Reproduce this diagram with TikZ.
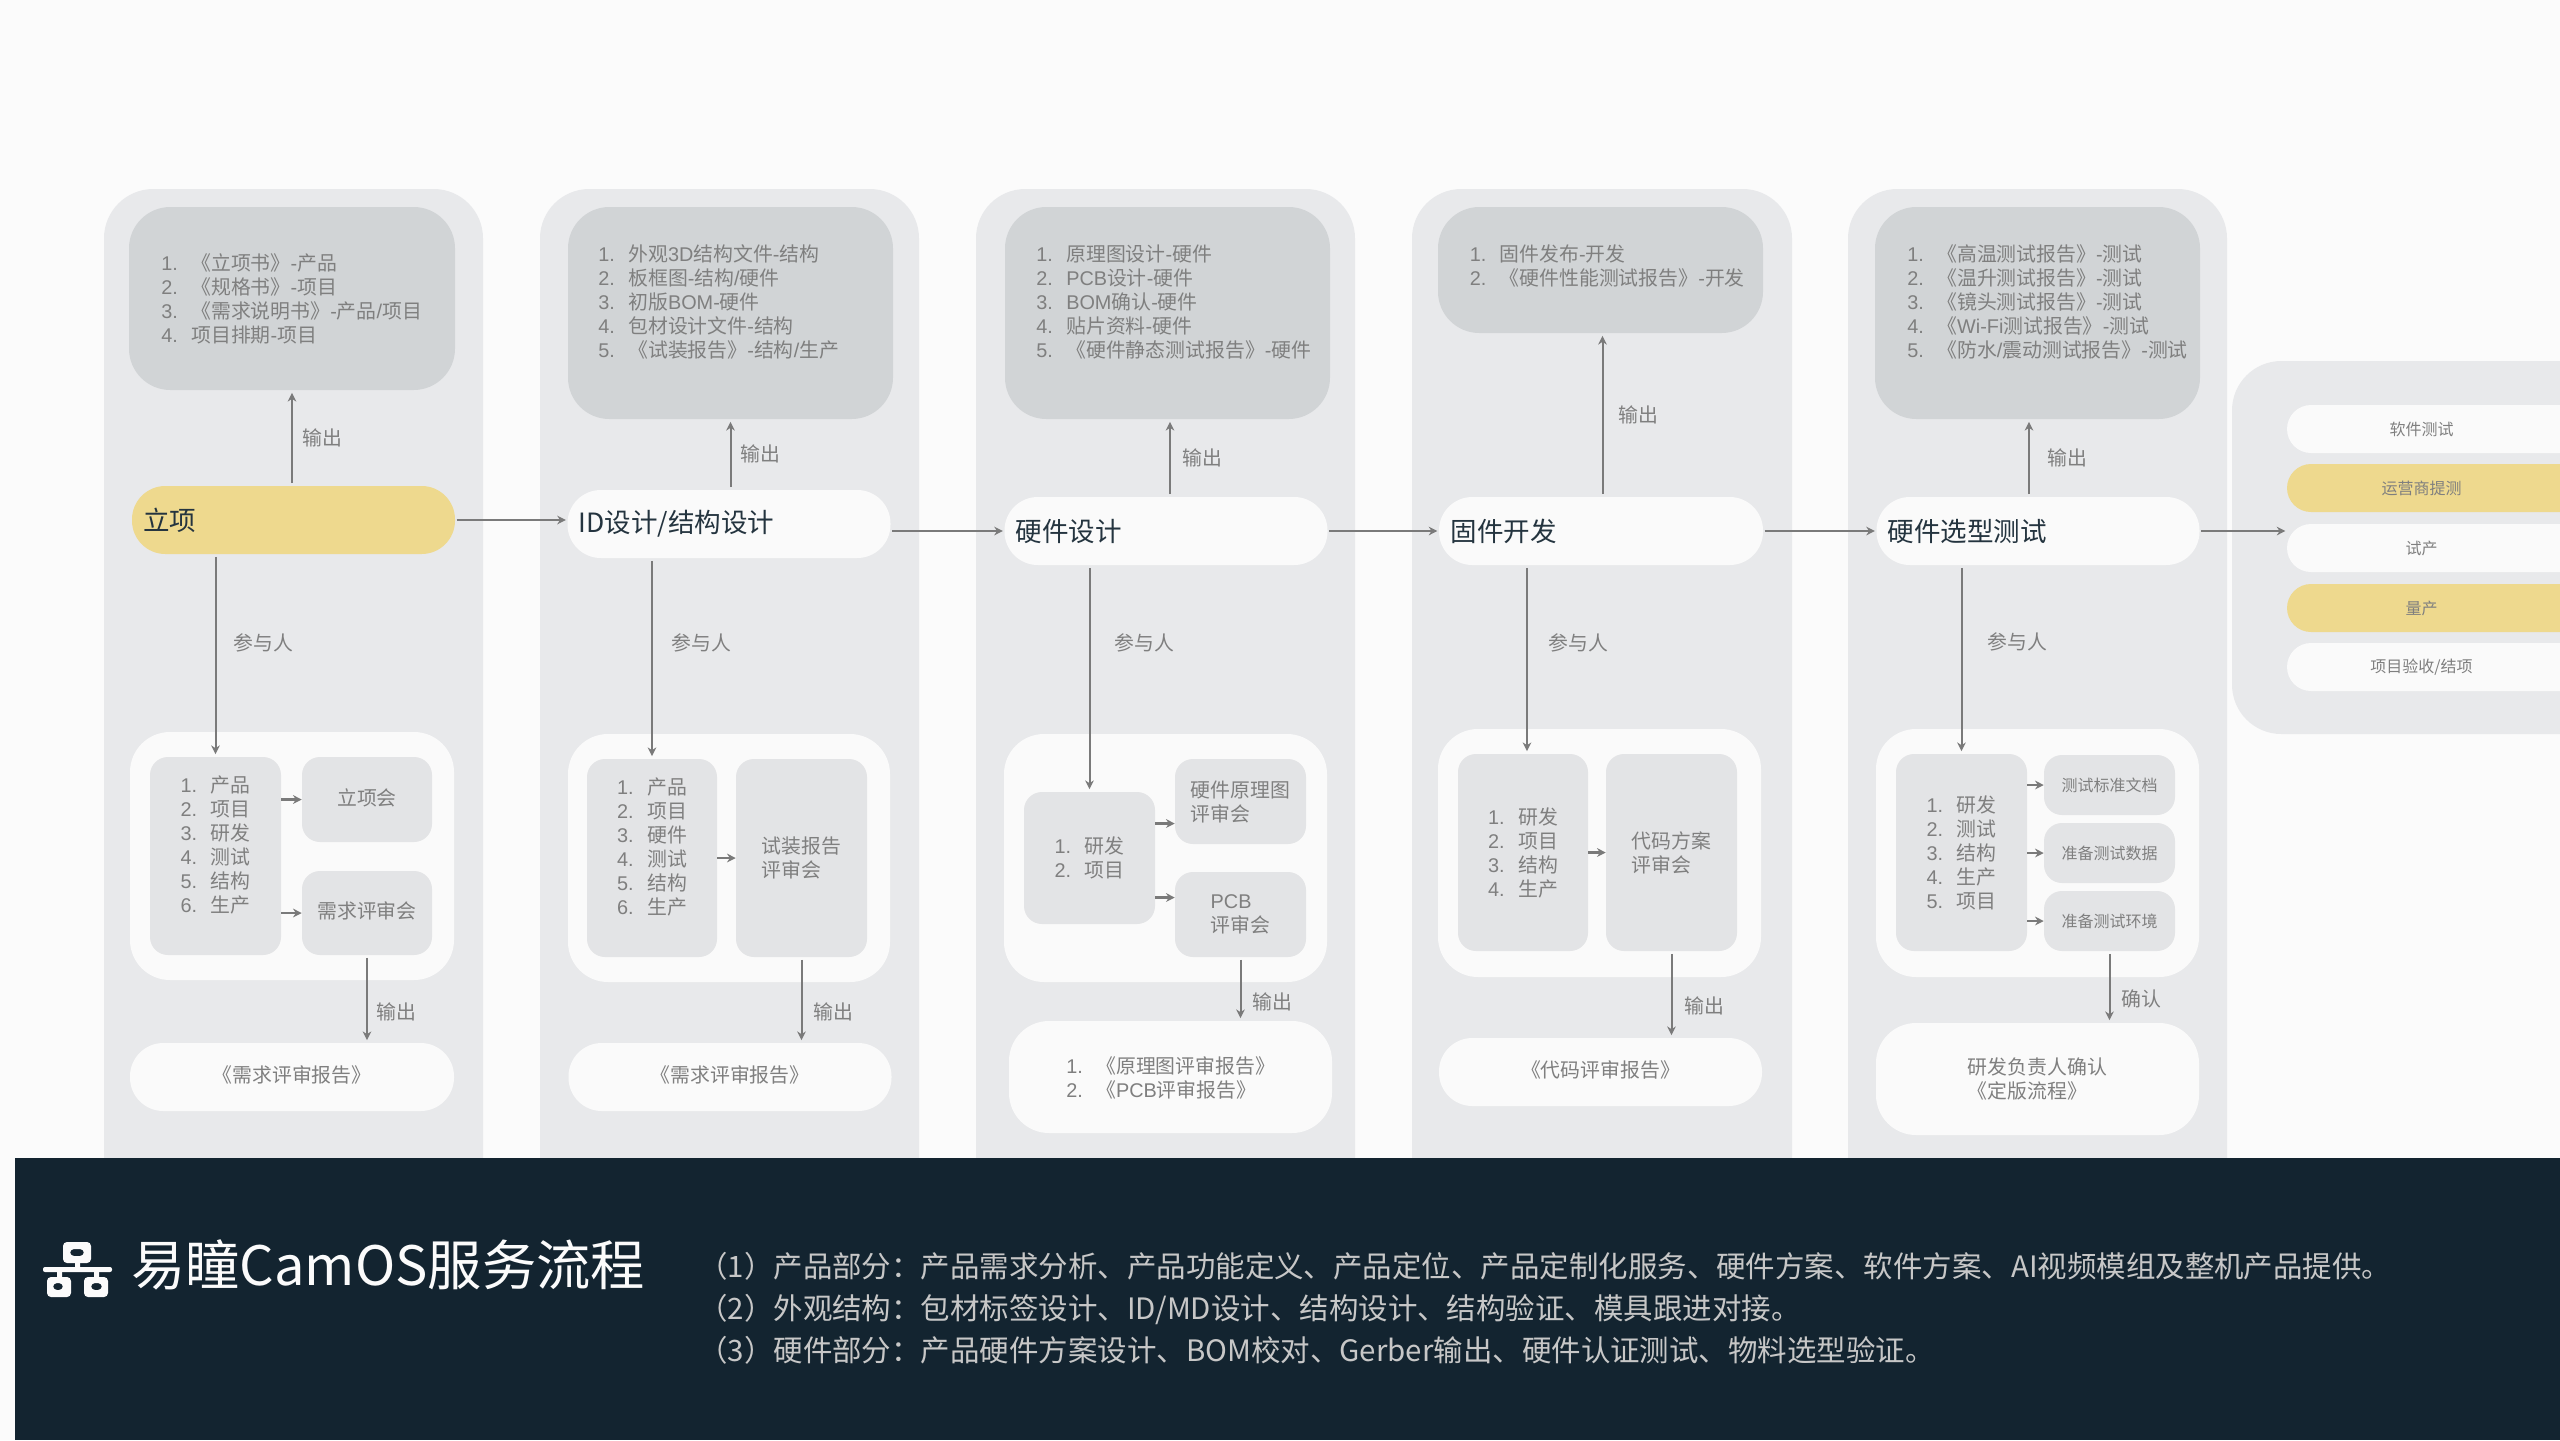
\documentclass[tikz,border=0pt]{standalone}
\usepackage{fontspec}
\usepackage{xcolor}
\usetikzlibrary{arrows.meta}
\setmainfont{Noto Sans CJK SC}
\newfontfamily\enfont{Liberation Sans}
\definecolor{pageBg}{HTML}{FBFBFB}
\definecolor{panelGrey}{HTML}{E8E9EB}
\definecolor{outGrey}{HTML}{D1D4D6}
\definecolor{listGrey}{HTML}{E3E4E6}
\definecolor{softWhite}{HTML}{FAFAFA}
\definecolor{flowYellow}{HTML}{EED98E}
\definecolor{barNavy}{HTML}{132430}
\definecolor{lineGrey}{HTML}{7A7A7A}
\definecolor{textGrey}{HTML}{7F7F7F}
\definecolor{headDark}{HTML}{24343F}
\def\px{0.75pt}
\newcommand{\en}[1]{{\enfont #1}}
\newcommand{\nitem}[2]{\makebox[22.5pt][l]{\enfont #1}#2}
\newcommand{\up}[1]{\raisebox{4pt}{#1}}
\tikzset{
    boxsize/.style 2 args={minimum width=#1*\px, minimum height=#2*\px},
    plainbox/.style={inner sep=0pt, align=left, text=textGrey, font=\fontsize{14.9}{18}\selectfont},
    panelbox/.style={plainbox, fill=panelGrey, rounded corners=37pt},
    outbox/.style={plainbox, fill=outGrey, rounded corners=31pt},
    stagebox/.style={plainbox, fill=softWhite, rounded corners=25pt, text=headDark,
        minimum height=68*\px, text width=301*\px, inner xsep=11*\px, font=\fontsize{19.9}{24}\selectfont},
    reportbox/.style={stagebox, font=\fontsize{14.9}{18}\selectfont, text=textGrey, align=center},
    holdbox/.style={plainbox, fill=softWhite, rounded corners=30pt},
    listbox/.style={plainbox, fill=listGrey, rounded corners=13.5pt},
    smallbox/.style={listbox, font=\fontsize{12}{15}\selectfont},
    testbox/.style={plainbox, rounded corners=18pt, minimum height=48*\px, minimum width=413*\px},
    plaintext/.style={inner sep=0pt, align=left, text=textGrey, font=\fontsize{14.9}{18}\selectfont},
    smalltext/.style={plaintext, font=\fontsize{12}{15}\selectfont},
    flow/.style={->, line width=2.2pt, draw=lineGrey, shorten <=1pt, shorten >=1pt},
    link/.style={->, line width=1.5pt, draw=lineGrey, shorten <=2pt, shorten >=2pt},
    stub/.style={->, line width=2.2pt, draw=lineGrey}
}
\begin{document}
\begin{tikzpicture}[x=\px, y=-\px, >={Stealth[length=6.5pt,width=6.5pt]}]
\useasboundingbox (0,0) rectangle (2560,1440);
\fill[pageBg] (0,0) rectangle (2560,1440);

% panels
\node[panelbox, boxsize={379}{1041}] (panel1) at (293.5,709.5) {};
\node[panelbox, boxsize={379}{1041}] (panel2) at (729.5,709.5) {};
\node[panelbox, boxsize={379}{1041}] (panel3) at (1165.5,709.5) {};
\node[panelbox, boxsize={380}{1041}] (panel4) at (1602,709.5) {};
\node[panelbox, boxsize={379}{1041}] (panel5) at (2037.5,709.5) {};
\node[panelbox, boxsize={468}{373}] (panel6) at (2466,547.5) {};

% output boxes on top
\node[outbox, boxsize={326}{183}] (out1) at (292,298.5) {};
\node[outbox, boxsize={325}{212}] (out2) at (730.5,313) {};
\node[outbox, boxsize={325}{212}] (out3) at (1167.5,313) {};
\node[outbox, boxsize={325}{126}] (out4) at (1600.5,270) {};
\node[outbox, boxsize={325}{212}] (out5) at (2037.5,313) {};
\node[plaintext, anchor=west] (outtext1) at (161,298.5) {\nitem{1.}{《立项书》\en{-}产品}\\\nitem{2.}{《规格书》\en{-}项目}\\\nitem{3.}{《需求说明书》\en{-}产品\en{/}项目}\\\nitem{4.}{项目排期\en{-}项目}};
\node[plaintext, anchor=west] (outtext2) at (598,302) {\nitem{1.}{外观\en{3D}结构文件\en{-}结构}\\\nitem{2.}{板框图\en{-}结构\en{/}硬件}\\\nitem{3.}{初版\en{BOM-}硬件}\\\nitem{4.}{包材设计文件\en{-}结构}\\\nitem{5.}{《试装报告》\en{-}结构\en{/}生产}};
\node[plaintext, anchor=west] (outtext3) at (1036,302) {\nitem{1.}{原理图设计\en{-}硬件}\\\nitem{2.}{\en{PCB}设计\en{-}硬件}\\\nitem{3.}{\en{BOM}确认\en{-}硬件}\\\nitem{4.}{贴片资料\en{-}硬件}\\\nitem{5.}{《硬件静态测试报告》\en{-}硬件}};
\node[plaintext, anchor=west] (outtext4) at (1469.5,266) {\nitem{1.}{固件发布\en{-}开发}\\\nitem{2.}{《硬件性能测试报告》\en{-}开发}};
\node[plaintext, anchor=west] (outtext5) at (1907,302) {\nitem{1.}{《高温测试报告》\en{-}测试}\\\nitem{2.}{《温升测试报告》\en{-}测试}\\\nitem{3.}{《镜头测试报告》\en{-}测试}\\\nitem{4.}{《\en{Wi-Fi}测试报告》\en{-}测试}\\\nitem{5.}{《防水\en{/}震动测试报告》\en{-}测试}};

% stages
\node[stagebox, fill=flowYellow, minimum width=323*\px] (stage1) at (293.5,520) {立项};
\node[stagebox, minimum width=322*\px] (stage2) at (729,524) {ID设计/结构设计};
\node[stagebox, minimum width=322*\px] (stage3) at (1166,531) {硬件设计};
\node[stagebox, minimum width=324*\px] (stage4) at (1601,531) {固件开发};
\node[stagebox, minimum width=322*\px] (stage5) at (2038,531) {硬件选型测试};

% people and meetings
\node[holdbox, boxsize={324}{248}] (hold1) at (292,856) {};
\node[holdbox, boxsize={322}{248}] (hold2) at (729,858) {};
\node[holdbox, boxsize={323}{248}] (hold3) at (1165.5,858) {};
\node[holdbox, boxsize={323}{248}] (hold4) at (1599.5,853) {};
\node[holdbox, boxsize={323}{248}] (hold5) at (2037.5,853) {};
\node[listbox, boxsize={131}{198}] (list1) at (215.5,856) {\nitem{1.}{产品}\\\nitem{2.}{项目}\\\nitem{3.}{研发}\\\nitem{4.}{测试}\\\nitem{5.}{结构}\\\nitem{6.}{生产}\\\mbox{}};
\node[listbox, boxsize={130}{198}] (list2) at (652,858) {\nitem{1.}{产品}\\\nitem{2.}{项目}\\\nitem{3.}{硬件}\\\nitem{4.}{测试}\\\nitem{5.}{结构}\\\nitem{6.}{生产}\\\mbox{}};
\node[listbox, boxsize={131}{132}] (list3) at (1089.5,858) {\nitem{1.}{研发}\\\nitem{2.}{项目}};
\node[listbox, boxsize={130}{197}] (list4) at (1523,852.5) {\nitem{1.}{研发}\\\nitem{2.}{项目}\\\nitem{3.}{结构}\\\nitem{4.}{生产}};
\node[listbox, boxsize={131}{197}] (list5) at (1961.5,852.5) {\nitem{1.}{研发}\\\nitem{2.}{测试}\\\nitem{3.}{结构}\\\nitem{4.}{生产}\\\nitem{5.}{项目}};
\node[listbox, boxsize={130}{85}] (meet1a) at (367,799.5) {\up{立项会}};
\node[listbox, boxsize={130}{84}] (meet1b) at (367,913) {\up{需求评审会}};
\node[listbox, boxsize={131}{198}] (meet2) at (801.5,858) {试装报告\\评审会};
\node[listbox, boxsize={131}{85}] (meet3a) at (1240.5,801.5) {硬件原理图\\评审会};
\node[listbox, boxsize={131}{85}] (meet3b) at (1240.5,914.5) {\en{PCB}\\评审会};
\node[listbox, boxsize={131}{197}] (meet4) at (1671.5,852.5) {代码方案\\评审会};
\node[smallbox, boxsize={131}{60}] (meet5a) at (2109.5,785) {测试标准文档};
\node[smallbox, boxsize={131}{60}] (meet5b) at (2109.5,853) {准备测试数据};
\node[smallbox, boxsize={131}{60}] (meet5c) at (2109.5,921) {准备测试环境};

% reports
\node[reportbox, minimum width=324*\px] (report1) at (292,1077) {\up{《需求评审报告》}};
\node[reportbox, minimum width=322*\px] (report2) at (730,1077) {\up{《需求评审报告》}};
\node[holdbox, boxsize={323}{112}] (report3) at (1170.5,1077) {};
\node[reportbox, minimum width=323*\px] (report4) at (1600.5,1072) {\up{《代码评审报告》}};
\node[holdbox, boxsize={323}{112}] (report5) at (2037.5,1079) {研发负责人确认\\《定版流程》};
\node[plaintext, anchor=west] (reporttext3) at (1066,1078) {\nitem{1.}{《原理图评审报告》}\\\nitem{2.}{《\en{PCB}评审报告》}};

% last panel
\node[testbox, fill=softWhite] (test1) at (2493.5,429) {};
\node[testbox, fill=flowYellow] (test2) at (2493.5,488) {};
\node[testbox, fill=softWhite] (test3) at (2493.5,548) {};
\node[testbox, fill=flowYellow] (test4) at (2493.5,608) {};
\node[testbox, fill=softWhite] (test5) at (2493.5,667) {};
\node[smalltext] (testtext1) at (2421.5,429) {软件测试};
\node[smalltext] (testtext2) at (2421.5,488) {运营商提测};
\node[smalltext] (testtext3) at (2421.5,548) {试产};
\node[smalltext] (testtext4) at (2421.5,608) {量产};
\node[smalltext] (testtext5) at (2421.5,667) {项目验收/结项};

% flow between stages
\draw[flow] (stage1.east) -- (stage1.east -| stage2.west);
\draw[flow] (stage2.east |- stage3.west) -- (stage3.west);
\draw[flow] (stage3.east) -- (stage4.west);
\draw[flow] (stage4.east) -- (stage5.west);
\draw[flow] (stage5.east) -- (stage5.east -| test3.west);

% output arrows
\draw[link] (out1.south |- stage1.north) -- (out1.south);
\draw[link] (out2.south |- stage2.north) -- (out2.south);
\draw[link] ([xshift=2.5*\px]out3.south |- stage3.north) -- ([xshift=2.5*\px]out3.south);
\draw[link] ([xshift=2*\px]out4.south |- stage4.north) -- ([xshift=2*\px]out4.south);
\draw[link] ([xshift=-8.5*\px]out5.south |- stage5.north) -- ([xshift=-8.5*\px]out5.south);
\node[plaintext] (outlabel1) at (322,438) {输出};
\node[plaintext] (outlabel2) at (760.5,454) {输出};
\node[plaintext] (outlabel3) at (1202,458) {输出};
\node[plaintext] (outlabel4) at (1638,415) {输出};
\node[plaintext] (outlabel5) at (2067,458) {输出};

% people arrows
\draw[link] (list1.north |- stage1.south) -- (list1.north);
\draw[link] (list2.north |- stage2.south) -- (list2.north);
\draw[link] (list3.north |- stage3.south) -- (list3.north);
\draw[link] ([xshift=4*\px]list4.north |- stage4.south) -- ([xshift=4*\px]list4.north);
\draw[link] (list5.north |- stage5.south) -- (list5.north);
\node[plaintext] (joinlabel1) at (263.5,643) {参与人};
\node[plaintext] (joinlabel2) at (701.5,643) {参与人};
\node[plaintext] (joinlabel3) at (1144.5,643) {参与人};
\node[plaintext] (joinlabel4) at (1578.5,643) {参与人};
\node[plaintext] (joinlabel5) at (2017.5,642) {参与人};

% short arrows to the meetings
\draw[stub] (meet1a.west -| list1.east) -- (meet1a.west);
\draw[stub] (meet1b.west -| list1.east) -- (meet1b.west);
\draw[stub] (meet2.west -| list2.east) -- (meet2.west);
\draw[stub] ([yshift=-22*\px]meet3a.west -| list3.east) -- ([yshift=-22*\px]meet3a.west);
\draw[stub] ([yshift=17*\px]meet3b.west -| list3.east) -- ([yshift=17*\px]meet3b.west);
\draw[stub] (meet4.west -| list4.east) -- (meet4.west);
\draw[stub] (meet5a.west -| list5.east) -- (meet5a.west);
\draw[stub] (meet5b.west -| list5.east) -- (meet5b.west);
\draw[stub] (meet5c.west -| list5.east) -- (meet5c.west);

% report arrows
\draw[link] (meet1b.south) -- (meet1b.south |- report1.north);
\draw[link] (meet2.south) -- (meet2.south |- report2.north);
\draw[link] (meet3b.south) -- (meet3b.south |- report3.north);
\draw[link] (meet4.south) -- (meet4.south |- report4.north);
\draw[link] (meet5c.south) -- (meet5c.south |- report5.north);
\node[plaintext] (replabel1) at (396,1012) {输出};
\node[plaintext] (replabel2) at (833,1012) {输出};
\node[plaintext] (replabel3) at (1272.5,1002) {输出};
\node[plaintext] (replabel4) at (1704,1006) {输出};
\node[plaintext] (replabel5) at (2141.5,999) {确认};

% bottom bar
\fill[barNavy] (15,1158) rectangle (2560,1440);
\fill[pageBg, rounded corners=3pt, even odd rule]
    (63,1242) rectangle (91,1263) (70,1249) rectangle (84,1256);
\fill[pageBg, rounded corners=3pt, even odd rule]
    (47,1277) rectangle (71,1297) (53,1283) rectangle (63,1290);
\fill[pageBg, rounded corners=3pt, even odd rule]
    (84,1277) rectangle (108,1297) (91,1283) rectangle (102,1290);
\fill[pageBg, rounded corners=1.5pt] (43,1267) rectangle (112,1272);
\fill[pageBg] (75,1262) rectangle (80,1268) (57,1271) rectangle (62,1278) (94,1271) rectangle (99,1278);
\node[inner sep=0pt, anchor=west, text=pageBg, font=\fontsize{40.7}{48}\selectfont] (title) at (131,1265) {易瞳CamOS服务流程};
\node[inner sep=0pt, anchor=west, align=left, text=black!22, font=\fontsize{22.1}{31.5}\selectfont] (summary) at (698,1308) {（1）产品部分：产品需求分析、产品功能定义、产品定位、产品定制化服务、硬件方案、软件方案、AI视频模组及整机产品提供。\\（2）外观结构：包材标签设计、ID/MD设计、结构设计、结构验证、模具跟进对接。\\（3）硬件部分：产品硬件方案设计、BOM校对、Gerber输出、硬件认证测试、物料选型验证。};
\end{tikzpicture}
\end{document}
